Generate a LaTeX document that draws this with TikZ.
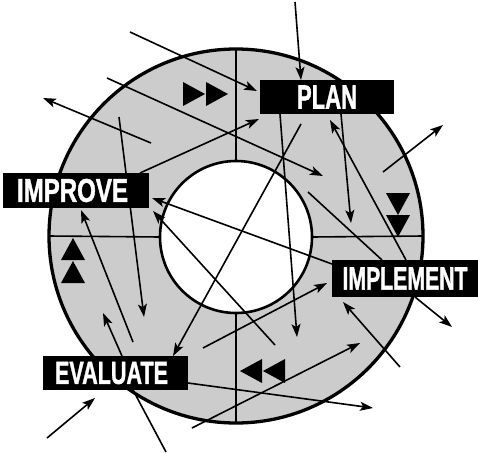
\documentclass[tikz,border=0pt]{standalone}
\usepackage{graphicx}
\usepackage{fontspec}
\setmainfont{Liberation Sans}
\newfontfamily\tagfont{Liberation Sans}[BoldFeatures={FakeBold=1.6}]
\usetikzlibrary{arrows.meta,calc}

\begin{document}
\begin{tikzpicture}[x=1pt,y=-1pt,
  wheelbody/.style={circle,inner sep=0pt,outer sep=0pt,fill=black!20,line width=3.3pt,draw=black},
  hubbody/.style={circle,inner sep=0pt,outer sep=0pt,fill=white,line width=2.6pt,draw=black},
  divider/.style={line width=1.6pt},
  flow/.style={line width=1.6pt},
  arr/.style={flow,-{Stealth[length=13pt,width=9pt,inset=3pt]}},
  tag/.style={fill=black,text=white,inner sep=0pt,outer sep=0pt,font=\tagfont\bfseries},
  wedge/.pic={\fill[black] (-11,-12) -- (11,0) -- (-11,12) -- cycle;}
]
\useasboundingbox (0,0) rectangle (478,452);

% the wheel: shaded ring around a white hub, split in four quarters
\node[wheelbody,minimum size=374pt] (wheel) at (236,236) {};
\node[hubbody,minimum size=152pt] (hub) at (236,237) {};
\draw[divider] (hub.north) -- (wheel.north);
\draw[divider] (hub.west) -- (wheel.west);
\draw[divider] (hub.east) -- (wheel.east);
\draw[divider] (hub.south) -- (wheel.south);

% direction marks in each quarter
\pic at (194,94) {wedge};
\pic at (217,94) {wedge};
\pic[rotate=-90] at (398,204) {wedge};
\pic[rotate=-90] at (398,226) {wedge};
\pic[rotate=180] at (251,371) {wedge};
\pic[rotate=180] at (274,371) {wedge};
\pic[rotate=90] at (73,249) {wedge};
\pic[rotate=90] at (73,272) {wedge};

% stage labels (placed first so the connectors can refer to them)
\node[tag,minimum width=134pt,minimum height=34pt] (plan) at (327,97) {};
\node[tag,minimum width=146pt,minimum height=35pt] (improve) at (76,190.5) {};
\node[tag,minimum width=146pt,minimum height=37pt] (implement) at (405,278.5) {};
\node[tag,minimum width=145pt,minimum height=34pt] (evaluate) at (115.5,373) {};

% free ends of the connectors
\coordinate (a1) at (295,2);
\coordinate (a2) at (130,32);
\coordinate (a3s) at (107,78);   \coordinate (a3e) at (323,176);
\coordinate (a4s) at (151,143);  \coordinate (a4e) at (43,98);
\coordinate (a5s) at (119,117);  \coordinate (a5e) at (144,317);
\coordinate (a6) at (133,342);
\coordinate (a7) at (103,313);
\coordinate (a8) at (301,124);
\coordinate (a9) at (203,348);
\coordinate (a10) at (166,452);
\coordinate (a11s) at (47,438);  \coordinate (a11e) at (95,398);
\coordinate (a12s) at (192,428); \coordinate (a12e) at (360,343);
\coordinate (a13) at (373,408);
\coordinate (a14) at (275,345);
\coordinate (a17) at (297,337);
\coordinate (a18) at (351,223);
\coordinate (a19) at (330,120);
\coordinate (a20) at (308,192);
\coordinate (a21) at (452,327);
\coordinate (a22s) at (400,367); \coordinate (a22e) at (343,302);
\coordinate (a23s) at (383,172); \coordinate (a23e) at (443,125);

% connectors
\draw[arr] (a1) -- ($(plan.north west)+(41,0)$);
\draw[arr] (a2) -- ($(plan.north west)+(-3,11)$);
\draw[arr] (a3s) -- (a3e);
\draw[arr] (a4s) -- (a4e);
\draw[arr] (a5s) -- (a5e);
\draw[arr] (a6) -- ($(improve.south west)+(78,2)$);
\draw[arr] ($(evaluate.north west)+(79,0)$) -- (a7);
\draw[arr] (a8) -- ($(evaluate.north west)+(130,0)$);
\draw[arr] (a9) -- ($(implement.south west)+(-5,-14)$);
\draw[flow] ($(evaluate.south west)+(90,0)$) -- (a10);
\draw[arr] (a11s) -- (a11e);
\draw[arr] (a12s) -- (a12e);
\draw[arr] ($(evaluate.south east)+(0,-7)$) -- (a13);
\draw[arr] (a14) -- ($(improve.south east)+(4,3)$);
\draw[arr] ($(implement.north west)+(0,4)$) -- ($(improve.south east)+(3,-10)$);
\draw[arr] ($(improve.north east)+(-9,0)$) -- ($(plan.south west)+(-1,5)$);
\draw[arr] ($(plan.south west)+(20,0)$) -- (a17);
\draw[arr] ($(plan.south west)+(81,0)$) -- (a18);
\draw[arr] ($(implement.north west)+(74,0)$) -- (a19);
\draw[flow] (a20) -- ($(implement.north west)+(50,0)$);
\draw[arr] ($(implement.south west)+(83,0)$) -- (a21);
\draw[arr] (a22s) -- (a22e);
\draw[arr] (a23s) -- (a23e);

% label boxes drawn again on top of the connectors, with their text
\node[tag,minimum width=134pt,minimum height=34pt] at (plan) {\resizebox{60pt}{23pt}{PLAN}};
\node[tag,minimum width=146pt,minimum height=35pt] at (improve) {\hspace*{-7pt}\resizebox{111pt}{23pt}{IMPROVE}};
\node[tag,minimum width=146pt,minimum height=37pt] at (implement) {\resizebox{125pt}{22pt}{IMPLEMENT}};
\node[tag,minimum width=145pt,minimum height=34pt] at (evaluate) {\hspace*{-8pt}\resizebox{113pt}{22pt}{EVALUATE}};
\end{tikzpicture}
\end{document}
